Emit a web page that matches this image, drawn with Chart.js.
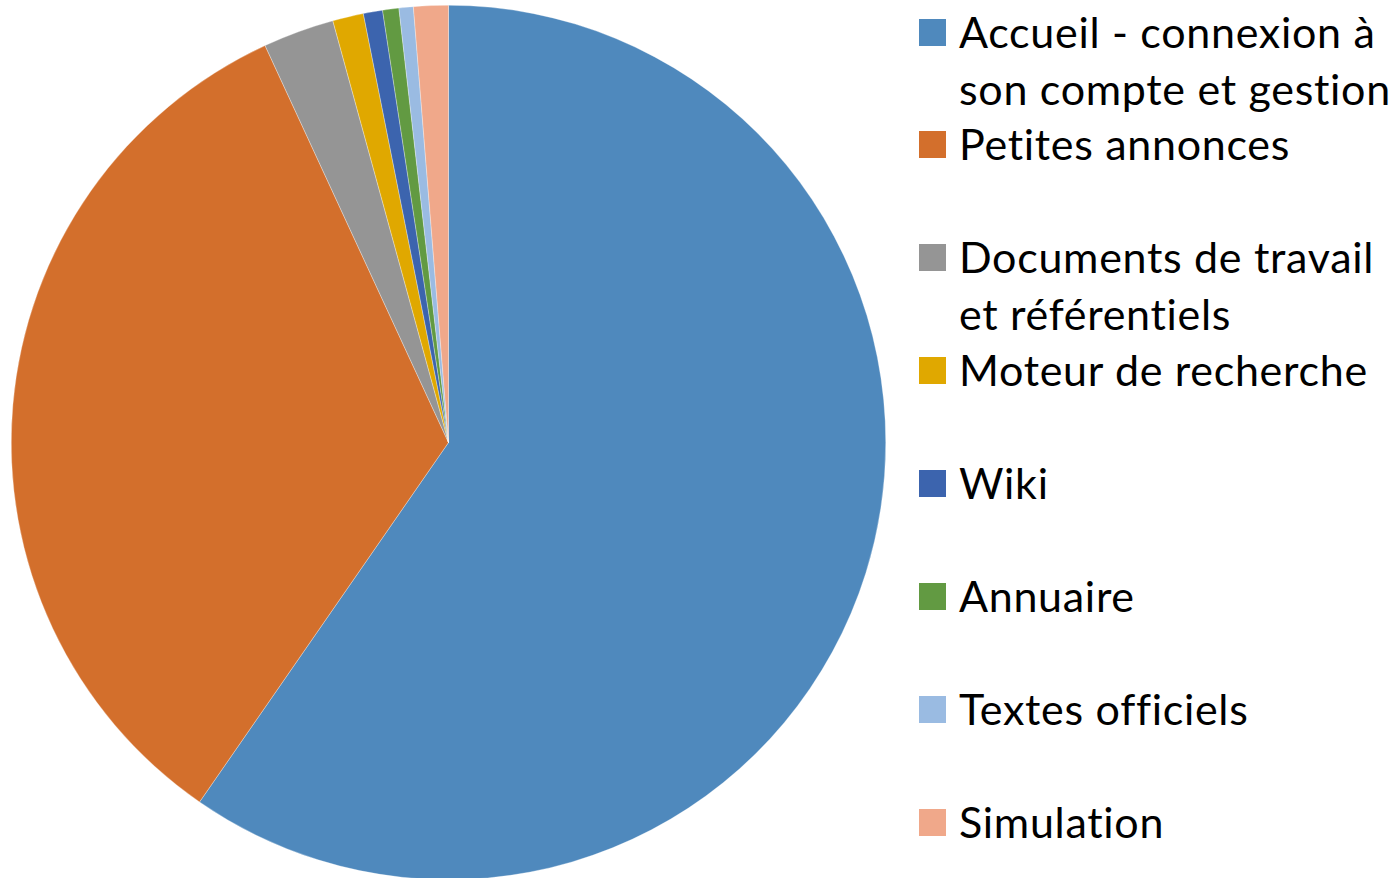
<!DOCTYPE html>
<html>
<head>
<meta charset="utf-8">
<script src="https://cdn.jsdelivr.net/npm/chart.js@4"></script>
<style>
  html, body { margin: 0; padding: 0; background: #fff; }
  body { width: 1396px; height: 878px; position: relative; overflow: hidden; font-family: Lato, "Open Sans", sans-serif; }
  #pieBox { position: absolute; left: 11px; top: 5px; width: 875px; height: 875px; }
  .item { position: absolute; left: 919px; width: 477px; }
  .swatch { position: absolute; left: 0; width: 27px; height: 27px; }
  .label { position: absolute; left: 40px; width: 436px; font-size: 43px; letter-spacing: 0.7px; line-height: 57px; color: #000; font-variant-ligatures: none; }
</style>
</head>
<body>
<div id="pieBox"><canvas id="pie"></canvas></div>
<div id="legend"></div>
<script>
// catégories et parts (en %)
const categories = [
    'Accueil - connexion à son compte et gestion',
    'Petites annonces',
    'Documents de travail et référentiels',
    'Moteur de recherche',
    'Wiki',
    'Annuaire',
    'Textes officiels',
    'Simulation'
];
const shares = [59.64, 33.47, 2.63, 1.14, 0.71, 0.60, 0.53, 1.28];
const colors = ['#4F89BD', '#D36F2C', '#959595', '#E0A800', '#3C64AE', '#629A42', '#9ABBE2', '#F0A88A'];

const ctx = document.getElementById('pie').getContext('2d');
new Chart(ctx, {
    type: 'pie',
    data: {
        labels: categories,
        datasets: [{
            data: shares,
            backgroundColor: colors,
            borderColor: 'rgba(255,255,255,0.6)',
            borderWidth: 0.5
        }]
    },
    options: {
        responsive: true,
        maintainAspectRatio: false,
        animation: false,
        layout: { padding: 0 },
        plugins: {
            legend: { display: false },
            tooltip: { enabled: false }
        }
    }
});

// légende à droite
const legend = document.getElementById('legend');
const slot = 112.9;
categories.forEach((name, i) => {
    const top = 33 + slot * i;
    const item = document.createElement('div');
    item.className = 'item';
    item.style.top = (top - 30.5) + 'px';
    item.innerHTML = `
        <div class="swatch" style="top:16px;background:${colors[i]}"></div>
        <div class="label">${name}</div>
    `;
    legend.appendChild(item);
});
</script>
</body>
</html>
